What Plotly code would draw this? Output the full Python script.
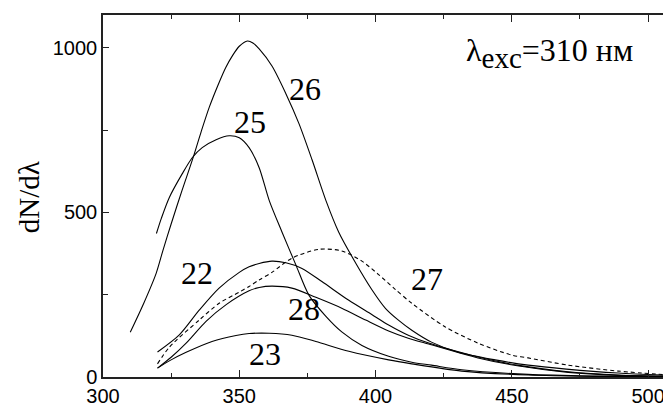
import plotly.graph_objects as go

# spectra: wavelength (nm) -> dN/dlambda
x26 = [310, 315, 319.5, 322, 325, 329, 333, 336, 339, 342.6, 345, 347.4, 350, 353, 355, 357.3, 362,
       367.1, 371.9, 376.7, 381.8, 386.5, 392.8, 398.6, 403.7, 408.5, 413.3, 420.5, 430.4,
       443.9, 456, 470, 489, 508]
y26 = [136, 225, 315, 385, 465, 567, 665, 745, 820, 895, 940, 975, 1005, 1021, 1015, 997, 945,
       861, 770, 660, 536, 440, 345, 266, 208, 172, 142, 106, 75,
       52, 36, 24, 12, 5]

x25 = [319.6, 321.4, 324.3, 329.1, 332.8, 336.4, 341.5, 346.3, 350, 353.6, 357.3, 361, 365.7,
       370.8, 375.6, 381.7, 387.6, 395, 404.8, 413.3, 420.5, 431.6, 456, 480, 508]
y25 = [436, 482, 545, 618, 667, 697, 721, 733, 727, 697, 636, 536, 440,
       340, 248, 185, 137, 96, 63, 45, 36, 22, 8, 3, 1]

x22 = [320, 328, 335.3, 342.6, 350, 353.6, 357.3, 362, 367.1, 373, 380.3, 390.2, 398.6, 404.8,
       412, 419.5, 437.6, 452, 470.7, 489, 508]
y22 = [76, 128, 203, 270, 318, 335, 345, 352, 347, 330, 290, 233, 190, 158,
       127, 103, 61, 36, 16, 6, 2]

x28 = [320, 325, 330.5, 337.9, 345.2, 353.6, 357.3, 362, 369.3, 378.1, 387.6, 396.4, 404.8,
       412, 419.5, 437.6, 452, 470.7, 489, 508]
y28 = [27, 60, 103, 170, 220, 262, 272, 276, 270, 242, 209, 173, 140,
       118, 100, 58, 34, 14, 5, 2]

x27 = [320, 324.4, 335.3, 342.6, 350, 353.6, 357.3, 362, 369.3, 379.2, 387.6, 395, 401, 407,
       413.3, 425.6, 437.6, 449.8, 456, 470.7, 489, 508]
y27 = [40, 91, 173, 224, 258, 275, 295, 318, 361, 388, 383, 352, 312, 268,
       224, 152, 103, 67, 58, 36, 18, 6]

x23 = [320, 325, 330.5, 340, 348.8, 353.6, 361, 369.3, 378.1, 390.2, 404.8, 413.3, 431.6, 456, 480, 508]
y23 = [27, 52, 75, 108, 126, 132, 133, 127, 108, 78, 52, 40, 18, 6, 2, 1]

curve_labels = ["22", "25", "26", "27", "28", "23"]
label_x = [334.6, 354.0, 374.1, 418.7, 373.7, 359.5]
label_y = [316, 775, 876, 298, 207, 70]

serif = "Liberation Serif, Times New Roman, serif"
sans = "Liberation Sans, Arial, sans-serif"

fig = go.Figure()
for xs, ys, dash in [(x26, y26, 'solid'), (x25, y25, 'solid'), (x22, y22, 'solid'),
                     (x28, y28, 'solid'), (x27, y27, '4px,3px'), (x23, y23, 'solid')]:
    fig.add_trace(go.Scatter(
        x=xs, y=ys, mode='lines',
        line=dict(color='black', width=1.1, dash=dash, shape='spline', smoothing=0.8),
        showlegend=False, hoverinfo='skip'
    ))

for t, lx, ly in zip(curve_labels, label_x, label_y):
    fig.add_annotation(x=lx, y=ly, text=t, showarrow=False,
                       font=dict(family=serif, size=32, color='black'))

fig.add_annotation(x=432.3, y=985, xanchor='left',
                   text="λ<sub><span style='font-size:29px'>exc</span></sub>=310 нм",
                   showarrow=False, font=dict(family=serif, size=32, color='black'))

fig.add_annotation(x=-0.13, y=0.497, xref='paper', yref='paper', xanchor='center', yanchor='middle',
                   text="dN/dλ", textangle=-90,
                   showarrow=False, font=dict(family=serif, size=29, color='black'))

fig.update_xaxes(
    range=[300, 508.4], tickvals=[300, 350, 400, 450, 500], ticks='inside', ticklen=7,
    tickcolor='#222', tickwidth=1.2, showline=True, linecolor='#222', linewidth=1.5, mirror='ticks',
    showgrid=False, zeroline=False, tickfont=dict(family=sans, size=20, color='black'),
    automargin=False,
    minor=dict(tickvals=[325, 375, 425, 475], ticks='inside', ticklen=4, tickcolor='#222', showgrid=False)
)
fig.update_yaxes(
    range=[0, 1100], tickvals=[0, 500, 1000], ticks='inside', ticklen=6,
    tickcolor='#222', tickwidth=1.2, showline=True, linecolor='#222', linewidth=1.5, mirror='ticks',
    showgrid=False, zeroline=False, tickfont=dict(family=sans, size=20, color='black'),
    automargin=False,
    minor=dict(tickvals=[250, 750], ticks='inside', ticklen=5, tickcolor='#222', showgrid=False)
)

# the page body adds an 8px margin, so the figure is a bit smaller than the window
fig.update_layout(
    width=663, height=397,
    margin=dict(l=95, r=0, t=7, b=28),
    plot_bgcolor='white', paper_bgcolor='white'
)

fig.write_html("out.html")
